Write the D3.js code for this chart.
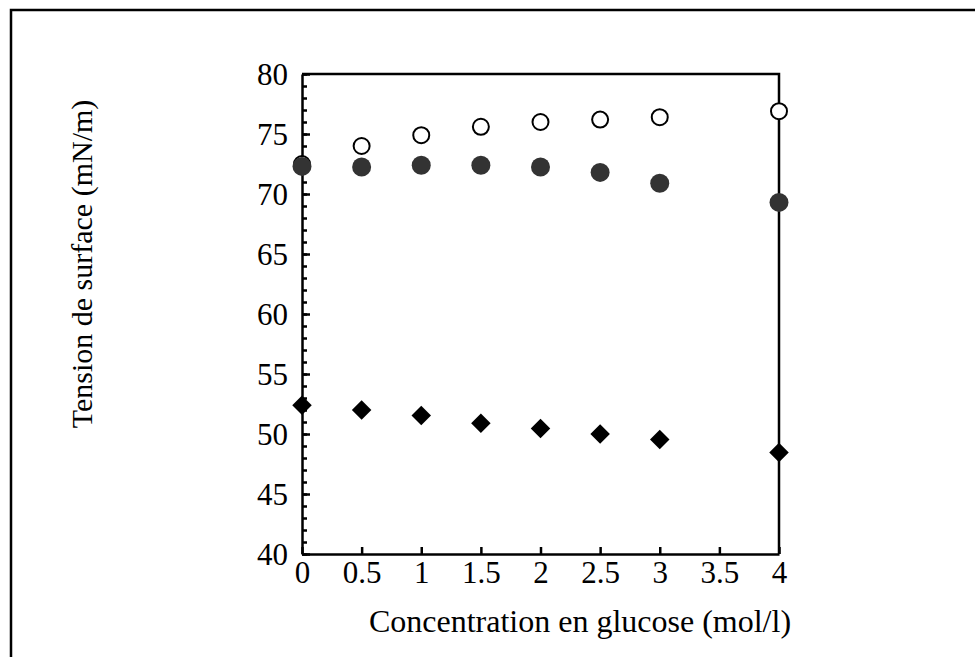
<!DOCTYPE html>
<html>
<head>
<meta charset="utf-8">
<script src="https://cdn.jsdelivr.net/npm/d3@7"></script>
<style>
  body { margin: 0; background: #fff; }
  svg text { font-family: "Liberation Serif", "Times New Roman", serif; fill: #000; }
</style>
</head>
<body>
<svg id="chart"></svg>
<script>
// data
const conc = [0, 0.5, 1, 1.5, 2, 2.5, 3, 4];
const openCircles = [72.5, 74.0, 74.9, 75.6, 76.0, 76.2, 76.4, 76.9];
const filledCircles = [72.3, 72.25, 72.4, 72.4, 72.25, 71.8, 70.9, 69.3];
const diamonds = [52.4, 52.0, 51.55, 50.9, 50.45, 50.0, 49.55, 48.45];
const xTicks = [0, 0.5, 1, 1.5, 2, 2.5, 3, 3.5, 4];
const yTicks = [40, 45, 50, 55, 60, 65, 70, 75, 80];

const width = 975, height = 657;
const svg = d3.select("#chart").attr("width", width).attr("height", height);

// outer frame (runs off the right and bottom edges)
svg.append("rect")
   .attr("x", 11).attr("y", 10)
   .attr("width", 1000).attr("height", 700)
   .attr("fill", "none").attr("stroke", "#000").attr("stroke-width", 2.5);

const x = d3.scaleLinear().domain([0, 4]).range([302, 779]);
const y = d3.scaleLinear().domain([40, 80]).range([554, 74]);

// minor y ticks every 1
svg.append("g")
   .attr("transform", `translate(${x(0)},0)`)
   .call(d3.axisLeft(y).tickValues(d3.range(40, 81, 1)).tickSize(-5).tickFormat(""))
   .call(g => g.select(".domain").remove())
   .call(g => g.selectAll("line").attr("stroke-width", 2.5));

const yAxis = svg.append("g")
   .attr("transform", `translate(${x(0)},0)`)
   .call(d3.axisLeft(y).tickValues(yTicks).tickSize(-8).tickSizeOuter(0).tickPadding(14));
yAxis.selectAll("text").style("font-size", "31px").attr("dy", "0.33em");

const xAxis = svg.append("g")
   .attr("transform", `translate(0,${y(40)})`)
   .call(d3.axisBottom(x).tickValues(xTicks).tickSize(-7).tickSizeOuter(0).tickPadding(7)
        .tickFormat(d3.format("")));
xAxis.selectAll("text").style("font-size", "31px");

[yAxis, xAxis].forEach(a => {
  a.selectAll("line").attr("stroke-width", 2.5);
  a.select(".domain").attr("stroke-width", 2.5);
});

// top and right lines of the plot box
svg.append("path")
   .attr("d", `M${x(0)},${y(80)}H${x(4)}V${y(40)}`)
   .attr("fill", "none").attr("stroke", "#000").attr("stroke-width", 2.5);

// open circles
svg.append("g").selectAll("circle")
   .data(conc.map((c, i) => [c, openCircles[i]]))
   .join("circle")
   .attr("cx", d => x(d[0])).attr("cy", d => y(d[1]))
   .attr("r", 8)
   .attr("fill", "#fff").attr("stroke", "#000").attr("stroke-width", 2);

// filled circles
svg.append("g").selectAll("circle")
   .data(conc.map((c, i) => [c, filledCircles[i]]))
   .join("circle")
   .attr("cx", d => x(d[0])).attr("cy", d => y(d[1]))
   .attr("r", 9.5)
   .attr("fill", "#333");

// diamonds
svg.append("g").selectAll("path")
   .data(conc.map((c, i) => [c, diamonds[i]]))
   .join("path")
   .attr("d", d3.symbol().type(d3.symbolSquare).size(190))
   .attr("transform", d => `translate(${x(d[0])},${y(d[1])}) rotate(45)`)
   .attr("fill", "#000");

// axis titles
svg.append("text")
   .attr("x", 580).attr("y", 632)
   .attr("text-anchor", "middle")
   .style("font-size", "32px")
   .text("Concentration en glucose (mol/l)");

svg.append("text")
   .attr("transform", "translate(92,264) rotate(-90)")
   .attr("text-anchor", "middle")
   .style("font-size", "30px")
   .text("Tension de surface (mN/m)");
</script>
</body>
</html>
